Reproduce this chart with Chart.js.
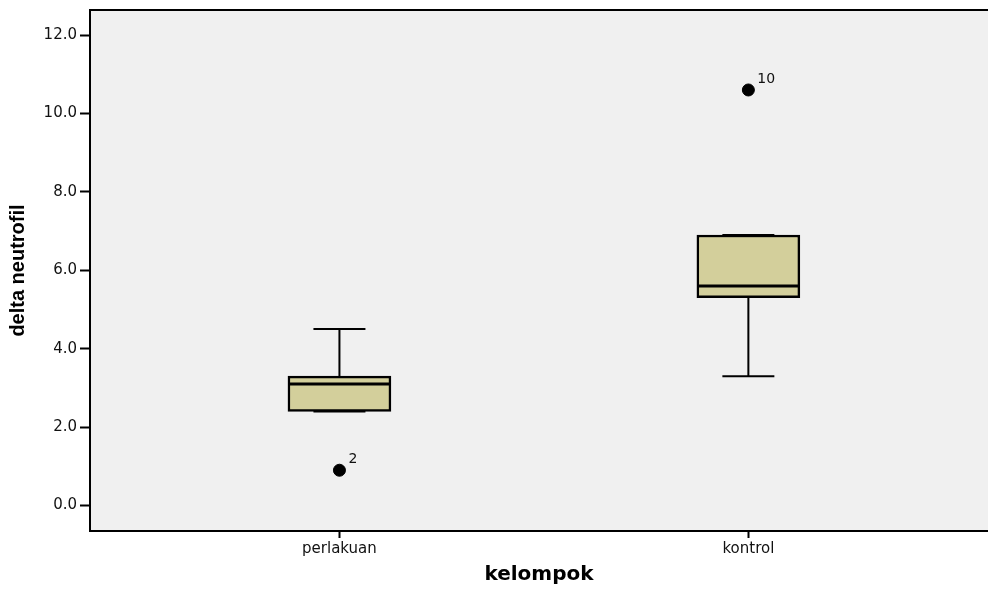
<!doctype html>
<html lang="en">

<head>
  <meta charset="utf-8">
  <title>delta neutrofil per kelompok</title>
  <style>
    * {
      margin: 0;
      padding: 0;
    }

    body {
      background: white;
      overflow: hidden;
    }

    .chartBox {
      width: 988px;
      height: 591px;
    }
  </style>
</head>

<body>
  <div class="chartBox">
    <canvas id="myChart"></canvas>
  </div>
  <script src="https://cdn.jsdelivr.net/npm/chart.js"></script>
  <script>

    // data
    const categories = ['perlakuan', 'kontrol'];
    const whiskerLow = [2.4, 3.3];
    const q1 = [2.4, 5.3];
    const median = [3.1, 5.6];
    const q3 = [3.3, 6.9];
    const whiskerHigh = [4.5, 6.9];
    const outliers = [0.9, 10.6];
    const outlierIds = ['2', '10'];
    const yTicks = [0, 2, 4, 6, 8, 10, 12];

    const boxColor = '#d3cf9b';

    // setup
    const data = {
      datasets: [{
        type: 'bar',
        label: 'box',
        data: categories.map((c, i) => ({ x: i + 1, y: [q1[i], q3[i]] })),
        backgroundColor: boxColor,
        borderColor: '#000',
        borderWidth: 2.5,
        borderSkipped: false,
        barThickness: 103,
        order: 2
      },
      {
        type: 'scatter',
        label: 'outliers',
        data: categories.map((c, i) => ({ x: i + 1, y: outliers[i] })),
        pointRadius: 6,
        pointHoverRadius: 6,
        pointBackgroundColor: '#000',
        pointBorderColor: '#000',
        order: 1
      }]
    };

    // plot frame + background (the right side runs off the picture)
    const frame = {
      id: 'frame',
      beforeDraw(chart) {
        const { ctx, chartArea: { top, left, height } } = chart;
        ctx.save();
        ctx.fillStyle = '#f0f0f0';
        ctx.fillRect(left, top, chart.width - left + 10, height);
        ctx.restore();
      },
      afterDraw(chart) {
        const { ctx, chartArea: { top, left, height } } = chart;
        ctx.save();
        ctx.strokeStyle = '#000';
        ctx.lineWidth = 2;
        ctx.strokeRect(left, top, chart.width - left + 10, height);
        ctx.restore();
      }
    };

    // whiskers, caps, medians and outlier ids
    const boxParts = {
      id: 'boxParts',
      beforeDatasetsDraw(chart) {
        const { ctx, scales: { x, y } } = chart;
        ctx.save();
        ctx.strokeStyle = '#000';
        ctx.lineWidth = 2;
        categories.forEach((c, i) => {
          const cx = x.getPixelForValue(i + 1);
          const capHalf = 26;
          ctx.beginPath();
          ctx.moveTo(cx, y.getPixelForValue(q3[i]));
          ctx.lineTo(cx, y.getPixelForValue(whiskerHigh[i]));
          ctx.moveTo(cx, y.getPixelForValue(q1[i]));
          ctx.lineTo(cx, y.getPixelForValue(whiskerLow[i]));
          ctx.moveTo(cx - capHalf, y.getPixelForValue(whiskerHigh[i]));
          ctx.lineTo(cx + capHalf, y.getPixelForValue(whiskerHigh[i]));
          ctx.moveTo(cx - capHalf, y.getPixelForValue(whiskerLow[i]));
          ctx.lineTo(cx + capHalf, y.getPixelForValue(whiskerLow[i]));
          ctx.stroke();
        });
        ctx.restore();
      },
      afterDatasetsDraw(chart) {
        const { ctx, scales: { x, y } } = chart;
        ctx.save();
        ctx.strokeStyle = '#000';
        ctx.lineWidth = 3;
        categories.forEach((c, i) => {
          const cx = x.getPixelForValue(i + 1);
          const my = y.getPixelForValue(median[i]);
          ctx.beginPath();
          ctx.moveTo(cx - 51, my);
          ctx.lineTo(cx + 51, my);
          ctx.stroke();

          ctx.fillStyle = '#111';
          ctx.font = '14px "DejaVu Sans"';
          ctx.textAlign = 'left';
          ctx.textBaseline = 'alphabetic';
          ctx.fillText(outlierIds[i], cx + 9, y.getPixelForValue(outliers[i]) - 7);
        });
        ctx.restore();
      }
    };

    // config
    const config = {
      data,
      options: {
        responsive: true,
        maintainAspectRatio: false,
        animation: false,
        layout: {
          autoPadding: false,
          padding: { top: 10, left: 0, right: 0, bottom: 0 }
        },
        plugins: {
          legend: { display: false },
          tooltip: { enabled: false }
        },
        scales: {
          x: {
            type: 'linear',
            offset: false,
            min: 0.39,
            max: 2.586,
            afterBuildTicks(scale) {
              scale.ticks = categories.map((c, i) => ({ value: i + 1 }));
            },
            afterFit(scale) {
              scale.height = 60;
              scale.paddingLeft = 0;
              scale.paddingRight = 0;
            },
            ticks: {
              autoSkip: false,
              maxRotation: 0,
              padding: 2,
              color: '#111',
              font: { family: 'DejaVu Sans', size: 15 },
              callback: (value) => categories[value - 1]
            },
            grid: {
              offset: false,
              drawOnChartArea: false,
              drawTicks: true,
              tickLength: 7,
              tickWidth: 2,
              tickColor: '#000'
            },
            border: { display: false },
            title: {
              display: true,
              text: 'kelompok',
              color: '#000',
              font: { family: 'DejaVu Sans', size: 20, weight: 'bold' },
              padding: { top: 0, bottom: 4 }
            }
          },
          y: {
            type: 'linear',
            min: -0.65,
            max: 12.64,
            afterBuildTicks(scale) {
              scale.ticks = yTicks.map(v => ({ value: v }));
            },
            afterFit(scale) {
              scale.width = 90;
              scale.paddingTop = 0;
              scale.paddingBottom = 0;
            },
            ticks: {
              autoSkip: false,
              padding: 3,
              color: '#111',
              font: { family: 'DejaVu Sans', size: 15 },
              callback: (value) => value.toFixed(1)
            },
            grid: {
              drawOnChartArea: false,
              drawTicks: true,
              tickLength: 10,
              tickWidth: 2,
              tickColor: '#000'
            },
            border: { display: false },
            title: {
              display: true,
              text: 'delta neutrofil',
              color: '#000',
              font: { family: 'Liberation Sans', size: 20, weight: 'bold' },
              padding: { top: 6, bottom: 0 }
            }
          }
        }
      },
      plugins: [frame, boxParts]
    };

    // render init block
    const myChart = new Chart(
      document.getElementById('myChart'),
      config
    );
  </script>

</body>

</html>
